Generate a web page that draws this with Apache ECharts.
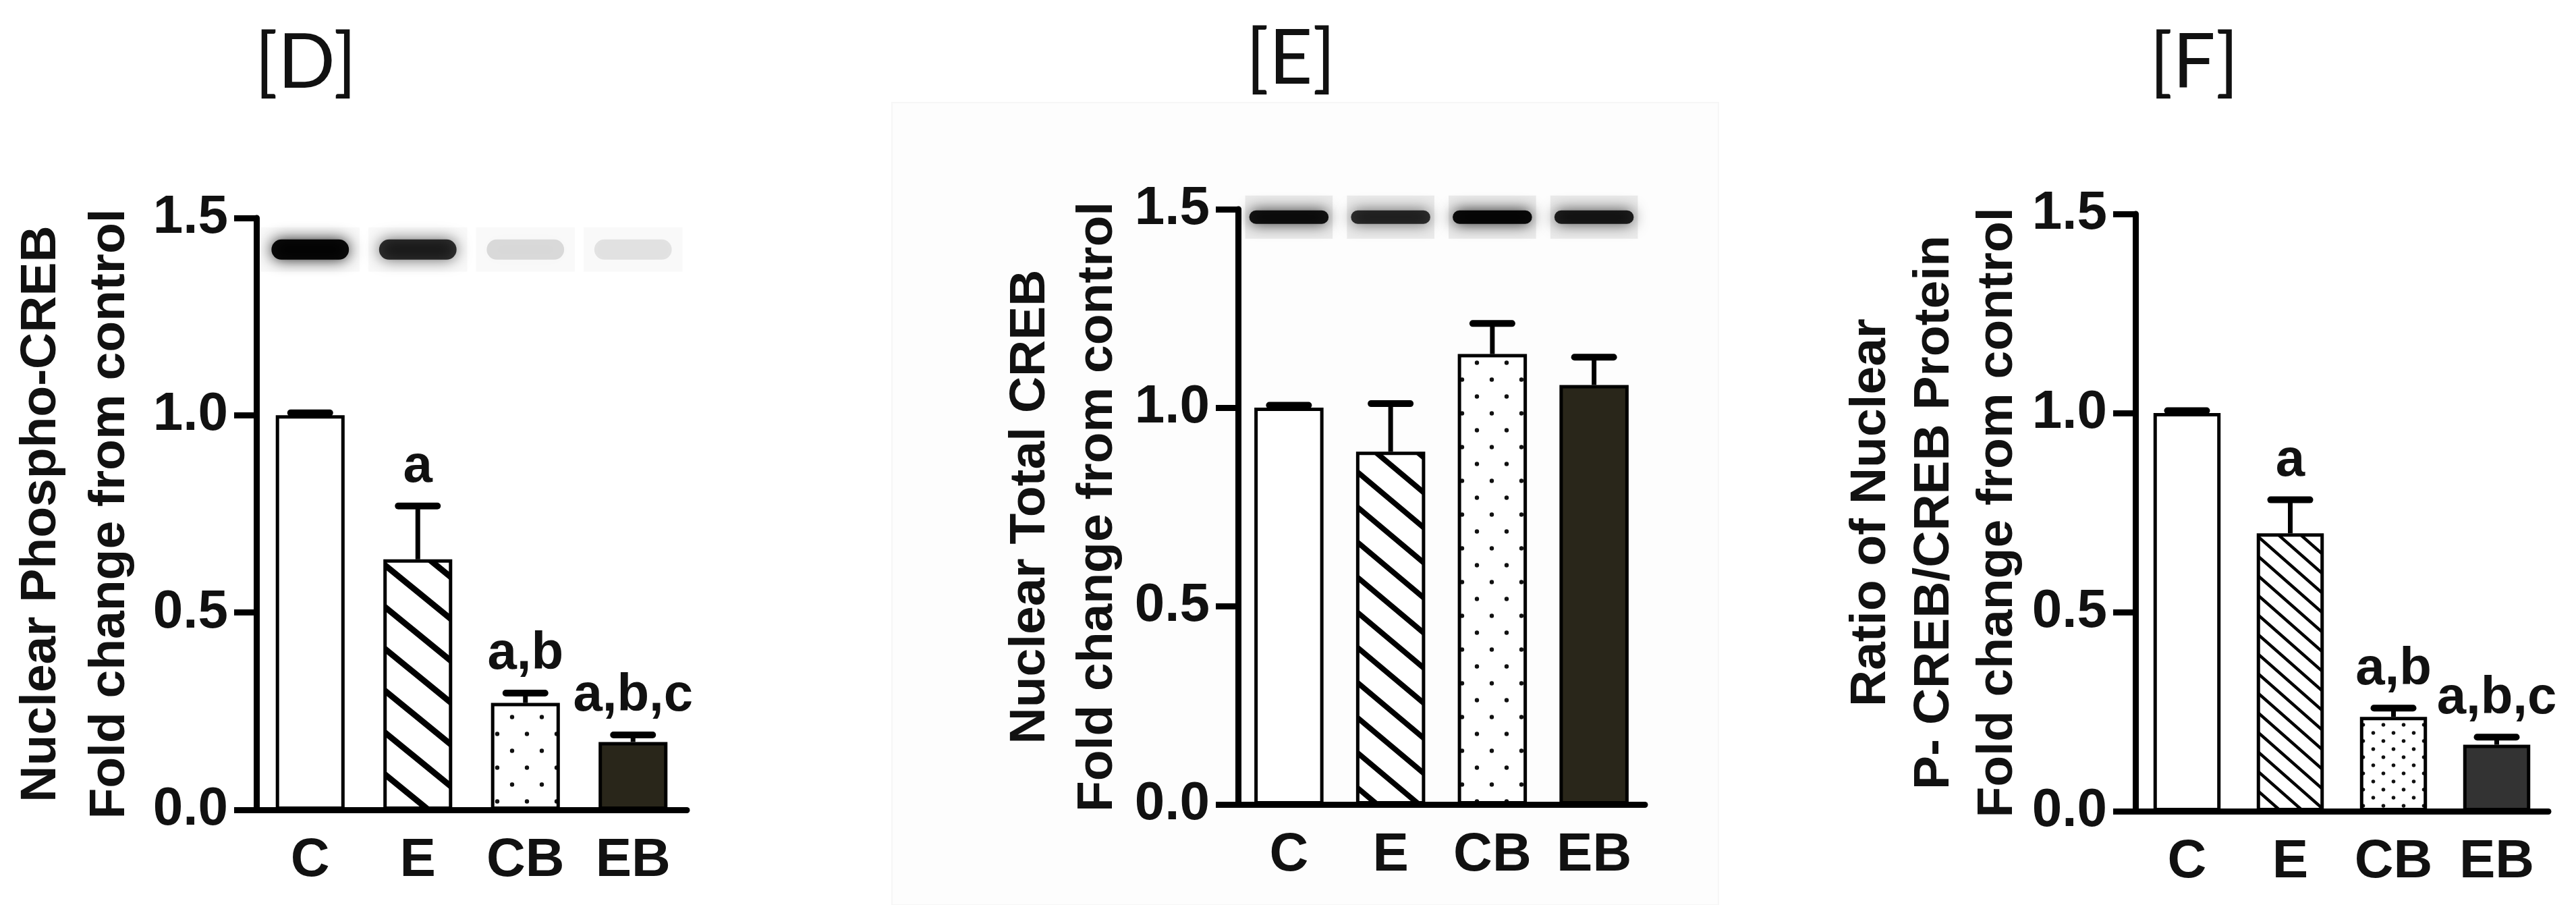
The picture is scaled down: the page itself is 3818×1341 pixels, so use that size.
<!DOCTYPE html>
<html>
<head>
<meta charset="utf-8">
<script src="https://cdn.jsdelivr.net/npm/echarts@6/dist/echarts.min.js"></script>
<style>
    html, body { margin: 0; padding: 0; background: #ffffff; }
    #chart { width: 3818px; height: 1341px; }
</style>
</head>
<body>
<div id="chart"></div>
<script>
// categories and y ticks
var categories = ['C', 'E', 'CB', 'EB'];
var yMin = 0, yMax = 1.5, yStep = 0.5;

// [D] nuclear phospho-CREB
var phosphoMean = [1.0, 0.635, 0.271, 0.172];
var phosphoErr = [0.006, 0.135, 0.025, 0.018];
var phosphoSig = ['', 'a', 'a,b', 'a,b,c'];
var phosphoBlot = [0.95, 0.78, 0.12, 0.09];

// [E] nuclear total CREB
var totalMean = [1.0, 0.889, 1.135, 1.057];
var totalErr = [0.006, 0.121, 0.077, 0.07];
var totalBlot = [0.9, 0.78, 0.95, 0.85];

// [F] ratio P-CREB / CREB
var ratioMean = [1.0, 0.698, 0.237, 0.167];
var ratioErr = [0.006, 0.084, 0.022, 0.019];
var ratioSig = ['', 'a', 'a,b', 'a,b,c'];

var FONT = '"Liberation Sans", Arial, Helvetica, sans-serif';

/**
 * fill patterns
 */
function makeHatch(w, h, lw) {
    var c = document.createElement('canvas');
    c.width = w;
    c.height = h;
    var ctx = c.getContext('2d');
    ctx.fillStyle = '#ffffff';
    ctx.fillRect(0, 0, w, h);
    ctx.strokeStyle = '#000000';
    ctx.lineWidth = lw;
    for (var k = -1; k <= 1; k++) {
        ctx.beginPath();
        ctx.moveTo(k * w - w * 0.2, -h * 0.2);
        ctx.lineTo(k * w + w * 1.2, h * 1.2);
        ctx.stroke();
    }
    return {image: c, repeat: 'repeat'};
}

function makeDots(dx, dy, r) {
    var c = document.createElement('canvas');
    c.width = dx * 2;
    c.height = dy * 2;
    var ctx = c.getContext('2d');
    ctx.fillStyle = '#ffffff';
    ctx.fillRect(0, 0, dx * 2, dy * 2);
    ctx.fillStyle = '#111111';
    ctx.beginPath();
    ctx.arc(dx * 0.5, dy * 0.5, r, 0, Math.PI * 2);
    ctx.arc(dx * 1.5, dy * 1.5, r, 0, Math.PI * 2);
    ctx.fill();
    return {image: c, repeat: 'repeat'};
}

var fillsD = ['#ffffff', makeHatch(76, 62, 9), makeDots(22, 25, 3.2), '#29261a'];
var fillsE = ['#ffffff', makeHatch(62, 52, 8), makeDots(22, 25, 3.2), '#29261a'];
var fillsF = ['#ffffff', makeHatch(33, 29, 4.5), makeDots(15, 12, 2.8), '#333333'];

/**
 * series builders
 */
function barSeries(idx, means, fills, width) {
    return {
        type: 'bar',
        xAxisIndex: idx,
        yAxisIndex: idx,
        barWidth: width,
        z: 3,
        data: means.map(function (v, i) {
            return {value: v, itemStyle: {color: fills[i], borderColor: '#000', borderWidth: 5}};
        })
    };
}

function errorSeries(idx, means, errs, sigs) {
    return {
        type: 'custom',
        xAxisIndex: idx,
        yAxisIndex: idx,
        z: 5,
        data: means.map(function (m, i) { return [i, m, m + errs[i]]; }),
        renderItem: function (params, api) {
            var base = api.coord([api.value(0), api.value(1)]);
            var top = api.coord([api.value(0), api.value(2)]);
            var children = [
                {type: 'line', shape: {x1: base[0], y1: base[1], x2: top[0], y2: top[1]},
                    style: {stroke: '#000', lineWidth: 7}},
                {type: 'line', shape: {x1: top[0] - 29, y1: top[1], x2: top[0] + 29, y2: top[1]},
                    style: {stroke: '#000', lineWidth: 10, lineCap: 'round'}}
            ];
            var sig = sigs ? sigs[params.dataIndex] : '';
            if (sig) {
                children.push({
                    type: 'text',
                    x: top[0],
                    y: top[1] - 18,
                    style: {text: sig, font: 'bold 78px ' + FONT, fill: '#111',
                        align: 'center', verticalAlign: 'bottom'}
                });
            }
            return {type: 'group', children: children};
        }
    };
}

function blotSeries(idx, darkness, level, laneFrac, bandH, stripH, stripAlpha, stripFrac) {
    return {
        type: 'custom',
        xAxisIndex: idx,
        yAxisIndex: idx,
        z: 1,
        clip: false,
        data: darkness.map(function (d, i) { return [i, level, d]; }),
        renderItem: function (params, api) {
            var c = api.coord([api.value(0), api.value(1)]);
            var band = api.size([1, 0])[0];
            var laneW = band * laneFrac;
            var stripW = band * stripFrac;
            var d = api.value(2);
            var sa = 'rgba(0,0,0,' + stripAlpha + ')';
            return {
                type: 'group',
                children: [
                    {type: 'rect', shape: {x: c[0] - stripW / 2, y: c[1] - stripH / 2, width: stripW, height: stripH},
                        style: {fill: sa, shadowBlur: 12, shadowColor: sa}},
                    {type: 'rect', shape: {x: c[0] - laneW / 2, y: c[1] - bandH / 2, width: laneW, height: bandH, r: bandH / 2},
                        style: {fill: 'rgba(0,0,0,' + d + ')', shadowBlur: 22, shadowColor: 'rgba(0,0,0,' + d + ')'}}
                ]
            };
        }
    };
}

function xAxisOf(idx) {
    return {
        type: 'category',
        gridIndex: idx,
        data: categories,
        axisLine: {lineStyle: {color: '#000', width: 9}},
        axisTick: {show: false},
        axisLabel: {color: '#111', fontSize: 80, fontWeight: 'bold', fontFamily: FONT, margin: 36}
    };
}

function yAxisOf(idx, name, gap, lineH) {
    return {
        type: 'value',
        gridIndex: idx,
        min: yMin,
        max: yMax,
        interval: yStep,
        name: name,
        nameLocation: 'middle',
        nameGap: gap,
        nameTextStyle: {color: '#111', fontSize: 75, fontWeight: 'bold', fontFamily: FONT, lineHeight: lineH},
        splitLine: {show: false},
        axisLine: {show: true, lineStyle: {color: '#000', width: 9}},
        axisTick: {show: true, length: 33, lineStyle: {color: '#000', width: 9}},
        axisLabel: {
            color: '#111', fontSize: 80, fontWeight: 'bold', fontFamily: FONT, margin: 42,
            formatter: function (v) { return v.toFixed(1); }
        }
    };
}

var chart = echarts.init(document.getElementById('chart'));

var option = {
    animation: false,
    backgroundColor: '#ffffff',
    graphic: [
        {type: 'rect', z: -10, silent: true, shape: {x: 1322, y: 152, width: 1225, height: 1189},
            style: {fill: '#fdfdfd', stroke: '#f6f6f6', lineWidth: 2}},
        {type: 'text', x: 453, y: 94, style: {text: '[D]', font: '112px Lato, "Open Sans", sans-serif', fill: '#111', align: 'center', verticalAlign: 'middle'}},
        {type: 'text', x: 1913, y: 88, style: {text: '[E]', font: '112px Lato, "Open Sans", sans-serif', fill: '#111', align: 'center', verticalAlign: 'middle'}},
        {type: 'text', x: 3252, y: 94, style: {text: '[F]', font: '112px Lato, "Open Sans", sans-serif', fill: '#111', align: 'center', verticalAlign: 'middle'}}
    ],
    grid: [
        {left: 380, top: 323, width: 638, height: 877},
        {left: 1835, top: 310, width: 603, height: 882},
        {left: 3165, top: 317, width: 612, height: 885}
    ],
    xAxis: [xAxisOf(0), xAxisOf(1), xAxisOf(2)],
    yAxis: [
        yAxisOf(0, 'Nuclear Phospho-CREB\nFold change from control', 166, 102),
        yAxisOf(1, 'Nuclear Total CREB\nFold change from control', 158, 100),
        yAxisOf(2, 'Ratio of Nuclear\nP- CREB/CREB Protein\nFold change from control', 146, 94)
    ],
    series: [
        blotSeries(0, phosphoBlot, 1.42, 0.72, 30, 66, 0.025, 0.92),
        barSeries(0, phosphoMean, fillsD, '64%'),
        errorSeries(0, phosphoMean, phosphoErr, phosphoSig),

        blotSeries(1, totalBlot, 1.48, 0.78, 20, 64, 0.07, 0.86),
        barSeries(1, totalMean, fillsE, '68%'),
        errorSeries(1, totalMean, totalErr, null),

        barSeries(2, ratioMean, fillsF, '65%'),
        errorSeries(2, ratioMean, ratioErr, ratioSig)
    ]
};

chart.setOption(option);
</script>
</body>
</html>
